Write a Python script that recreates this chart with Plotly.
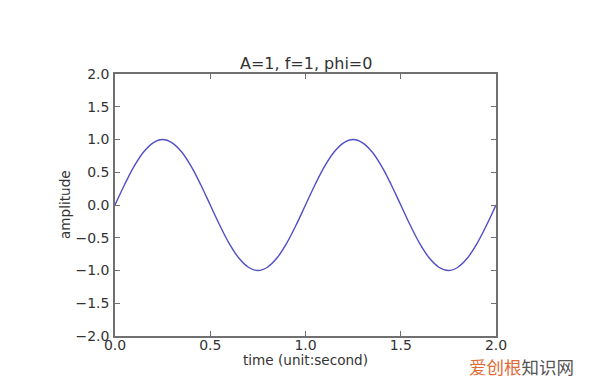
import plotly.graph_objects as go

# time samples (seconds) and amplitude values
time_s = [0.00, 0.05, 0.10, 0.15, 0.20, 0.25, 0.30, 0.35, 0.40, 0.45,
          0.50, 0.55, 0.60, 0.65, 0.70, 0.75, 0.80, 0.85, 0.90, 0.95,
          1.00, 1.05, 1.10, 1.15, 1.20, 1.25, 1.30, 1.35, 1.40, 1.45,
          1.50, 1.55, 1.60, 1.65, 1.70, 1.75, 1.80, 1.85, 1.90, 1.95, 2.00]
amplitude = [0.00, 0.31, 0.59, 0.81, 0.95, 1.00, 0.95, 0.81, 0.59, 0.31,
             0.00, -0.31, -0.59, -0.81, -0.95, -1.00, -0.95, -0.81, -0.59, -0.31,
             0.00, 0.31, 0.59, 0.81, 0.95, 1.00, 0.95, 0.81, 0.59, 0.31,
             0.00, -0.31, -0.59, -0.81, -0.95, -1.00, -0.95, -0.81, -0.59, -0.31, 0.00]
x_ticks = [0.0, 0.5, 1.0, 1.5, 2.0]
y_ticks = [-2.0, -1.5, -1.0, -0.5, 0.0, 0.5, 1.0, 1.5, 2.0]

title_text = "A=1, f=1, phi=0"
x_label = "time (unit:second)"
y_label = "amplitude"

FONT = "DejaVu Sans"
TXT = "#333333"
FRAME = "#707070"

fig = go.Figure()
fig.add_trace(go.Scatter(
    x=time_s, y=amplitude, mode="lines",
    line=dict(color="#4f4fc8", width=1.4, shape="spline", smoothing=1.0),
    hoverinfo="skip", showlegend=False,
))

axis_common = dict(
    showgrid=False, zeroline=False, showline=True, linecolor=FRAME, linewidth=1.5,
    mirror="ticks", ticks="inside", ticklen=5, tickwidth=1, tickcolor=FRAME,
    tickfont=dict(family=FONT, size=14, color=TXT),
)

fig.update_layout(
    width=600, height=384,
    margin=dict(l=115, r=104, t=74, b=48),
    paper_bgcolor="white", plot_bgcolor="white",
    xaxis=dict(range=[0, 2], tickmode="array", tickvals=x_ticks,
               ticktext=[f"{v:.1f}" for v in x_ticks], ticklabelstandoff=-5, **axis_common),
    yaxis=dict(range=[-2, 2], tickmode="array", tickvals=y_ticks,
               ticktext=[f"{v:.1f}".replace("-", "\u2212") for v in y_ticks],
               ticklabelstandoff=1, **axis_common),
    annotations=[
        dict(text=title_text, xref="paper", yref="paper", x=0.5, y=(336 - 63) / 262,
             xanchor="center", yanchor="middle", showarrow=False,
             font=dict(family=FONT, size=16, color=TXT)),
        dict(text=x_label, xref="paper", yref="paper", x=0.5, y=(336 - 360) / 262,
             xanchor="center", yanchor="middle", showarrow=False,
             font=dict(family=FONT, size=13.6, color=TXT)),
        dict(text=y_label, xref="paper", yref="paper", x=(65 - 115) / 381, y=0.5,
             xanchor="center", yanchor="middle", showarrow=False, textangle=-90,
             font=dict(family=FONT, size=13.6, color=TXT)),
        dict(text='<span style="color:#e06a35">爱创根</span><span style="color:#555555">知识网</span>',
             xref="paper", yref="paper", x=(467 - 115) / 381, y=(336 - 366) / 262,
             xanchor="left", yanchor="middle", showarrow=False,
             font=dict(family="Noto Sans CJK SC", size=17.5)),
    ],
)

fig.write_html("out.html")
